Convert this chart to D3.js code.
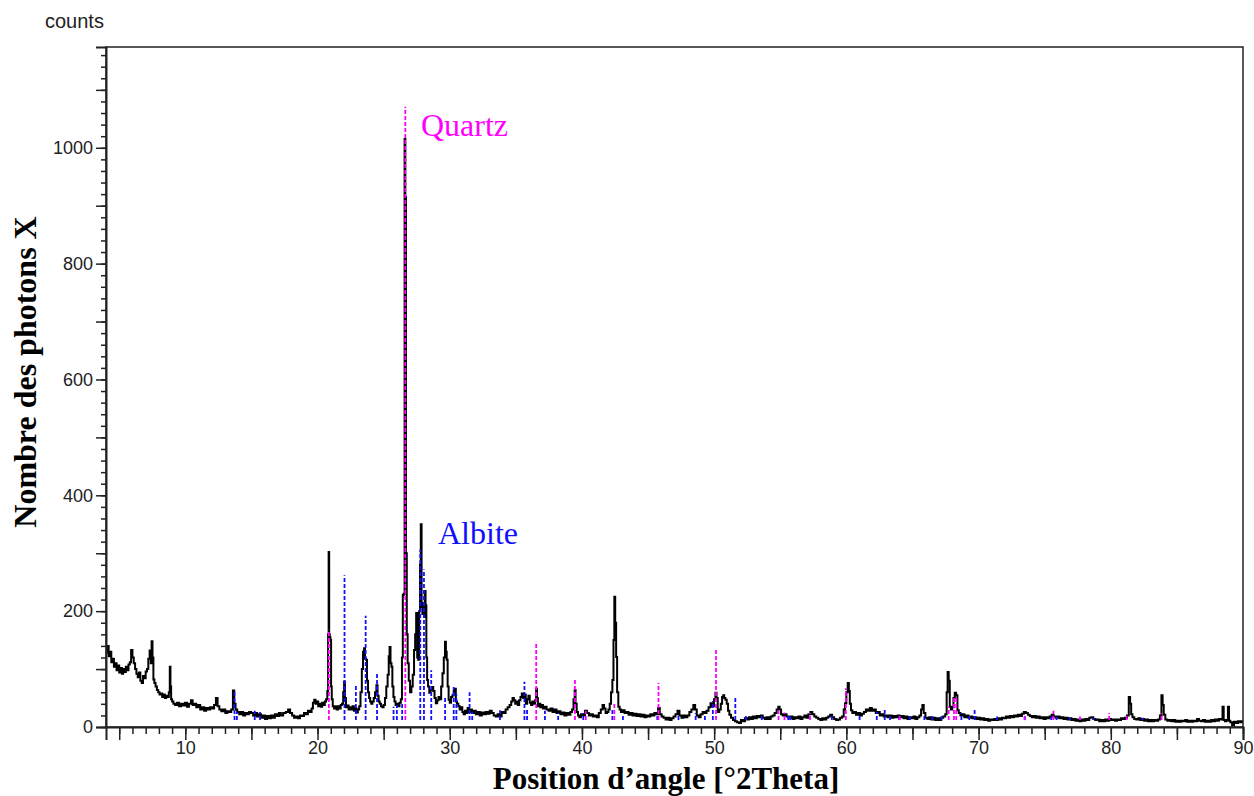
<!DOCTYPE html>
<html>
<head>
<meta charset="utf-8">
<script src="https://cdn.jsdelivr.net/npm/d3@7"></script>
<style>
  html, body { margin: 0; padding: 0; background: #fff; }
  svg { display: block; }
  .tick text { font-family: "Liberation Sans", Arial, sans-serif; font-size: 18px; fill: #222; }
</style>
</head>
<body>
<svg id="chart" width="1254" height="796"></svg>
<script>
// Diffractogram profile, [2θ (°), counts], split by angular range
const profileLow = [
  [4.00,138],[4.08,128],[4.15,140],[4.25,122],[4.35,130],[4.45,112],[4.55,118],[4.65,104],[4.75,110],[4.85,98],
  [4.95,106],[5.05,94],[5.15,102],[5.25,92],[5.35,100],[5.45,95],[5.55,104],[5.65,98],[5.75,108],[5.85,112],
  [5.95,133],[6.05,120],[6.15,110],[6.25,100],[6.35,92],[6.45,86],[6.55,94],[6.65,80],[6.75,76],[6.85,88],
  [6.95,84],[7.05,96],[7.15,100],[7.25,118],[7.35,132],[7.42,110],[7.48,148],[7.55,120],[7.62,82],[7.7,76],
  [7.8,70],[7.9,64],[8.0,60],[8.1,56],[8.2,58],[8.3,52],[8.4,56],[8.5,50],[8.6,54],[8.7,52],
  [8.8,60],[8.85,104],[8.9,70],[8.95,48],[9.05,44],[9.15,40],[9.3,38],[9.45,42],[9.6,36],[9.75,40],
  [9.9,37],[10.05,42],[10.2,35],[10.35,40],[10.5,46],[10.6,38],[10.75,40],[10.9,34],[11.05,38],[11.2,30],
  [11.35,34],[11.5,28],[11.65,33],[11.8,30],[11.95,34],[12.1,32],[12.25,38],[12.38,50],[12.5,36],[12.65,30],
  [12.8,27],[12.95,30],[13.1,24],[13.25,27],[13.4,26],[13.55,30],[13.65,63],[13.75,40],[13.85,30],[14.0,26],
  [14.15,22],[14.3,26],[14.45,20],[14.6,24],[14.75,22],[14.9,26],[15.05,24],[15.2,20],[15.35,24],[15.5,18],
  [15.65,22],[15.8,16],[15.95,20],[16.1,14],[16.25,19],[16.4,15],[16.55,20],[16.7,16],[16.85,22],[17.0,19],
  [17.15,24],[17.3,20],[17.5,24],[17.7,26],[17.85,30],[18.0,24],[18.15,20],[18.3,16],[18.45,18],[18.6,15],
  [18.75,20],[18.9,19],[19.05,24],[19.2,22],[19.35,28],[19.5,26]
];

const profileMain = [
  [19.6,32],[19.7,42],[19.8,47],[19.9,40],[20.0,44],[20.1,36],[20.2,40],[20.3,35],[20.4,42],[20.5,38],
  [20.6,44],[20.7,48],[20.78,62],[20.82,160],[20.86,302],[20.9,160],[20.95,155],[21.0,150],[21.05,70],[21.1,48],
  [21.2,36],[21.3,32],[21.4,36],[21.5,30],[21.6,36],[21.7,32],[21.8,38],[21.9,40],[21.98,60],[22.04,78],
  [22.1,50],[22.2,34],[22.3,37],[22.4,30],[22.5,34],[22.6,30],[22.7,36],[22.8,28],[22.9,32],[23.0,25],
  [23.1,30],[23.2,36],[23.3,60],[23.4,100],[23.48,130],[23.56,136],[23.62,118],[23.7,116],[23.78,80],[23.86,60],
  [23.94,50],[24.02,44],[24.1,40],[24.2,44],[24.3,50],[24.4,60],[24.5,72],[24.58,54],[24.66,44],[24.75,40],
  [24.85,36],[24.95,34],[25.05,38],[25.15,50],[25.25,70],[25.35,90],[25.42,122],[25.48,138],[25.56,110],[25.62,104],
  [25.7,70],[25.78,52],[25.86,44],[25.95,38],[26.05,40],[26.15,36],[26.25,42],[26.35,48],[26.42,120],[26.48,228],
  [26.55,230],[26.62,1015],[26.66,915],[26.72,300],[26.78,160],[26.85,110],[26.95,80],[27.05,60],[27.15,70],[27.25,90],
  [27.35,133],[27.42,160],[27.5,197],[27.58,120],[27.65,116],[27.72,200],[27.78,280],[27.84,350],[27.9,207],[27.96,195],
  [28.02,214],[28.08,190],[28.14,235],[28.2,210],[28.26,120],[28.32,81],[28.4,70],[28.5,59],[28.6,64],[28.7,69],
  [28.8,62],[28.9,50],[29.0,41],[29.1,46],[29.2,52],[29.3,48],[29.4,70],[29.5,93],[29.6,120],[29.68,147],
  [29.74,130],[29.8,116],[29.88,70],[29.95,47],[30.05,42],[30.15,52],[30.25,55],[30.35,62],[30.42,66],[30.5,44],
  [30.6,40],[30.7,36],[30.8,30],[30.9,34],[31.0,26],[31.1,22],[31.2,28],[31.3,24],[31.4,33],[31.5,26]
];

const profileMid = [
  [31.6,30],[31.75,24],[31.9,28],[32.05,22],[32.2,26],[32.35,20],[32.5,25],[32.65,22],[32.8,26],[32.95,23],
  [33.1,28],[33.25,24],[33.4,20],[33.55,18],[33.7,22],[33.85,18],[34.0,26],[34.15,24],[34.3,30],[34.45,34],
  [34.6,38],[34.7,44],[34.8,50],[34.9,46],[35.0,40],[35.1,44],[35.2,38],[35.3,46],[35.4,52],[35.5,58],
  [35.6,50],[35.7,56],[35.8,40],[35.9,48],[36.0,54],[36.1,42],[36.2,38],[36.3,44],[36.4,40],[36.5,46],
  [36.57,66],[36.63,50],[36.7,36],[36.8,40],[36.9,34],[37.0,38],[37.1,32],[37.25,35],[37.4,30],[37.55,28],
  [37.7,32],[37.85,26],[38.0,30],[38.15,24],[38.3,27],[38.45,22],[38.6,25],[38.75,20],[38.9,24],[39.05,21],
  [39.2,26],[39.3,30],[39.42,48],[39.48,64],[39.55,40],[39.65,26],[39.75,20],[39.85,17],[40.0,22],[40.15,20],
  [40.3,28],[40.45,24],[40.6,20],[40.75,22],[40.9,18],[41.05,20],[41.2,17],[41.35,24],[41.5,30],[41.62,38],
  [41.72,32],[41.85,24],[41.95,26],[42.05,30],[42.15,40],[42.25,60],[42.35,81],[42.42,150],[42.48,225],[42.55,180],
  [42.62,121],[42.7,60],[42.8,35],[42.9,30],[43.0,26],[43.15,29],[43.3,24],[43.45,26],[43.6,21],[43.75,24],
  [43.9,20],[44.05,23],[44.2,19],[44.35,22],[44.5,18],[44.65,21],[44.8,17],[44.95,20],[45.1,18],[45.25,22],
  [45.4,20],[45.55,24],[45.7,22],[45.82,33],[45.95,22],[46.1,18],[46.25,16],[46.4,13],[46.55,16],[46.7,12],
  [46.85,15],[47.0,18],[47.15,22],[47.3,28],[47.45,20],[47.6,16],[47.75,20],[47.9,17],[48.05,20],[48.2,26],
  [48.35,30],[48.5,38],[48.62,30],[48.75,20],[48.9,17],[49.05,22],[49.2,26],[49.35,24],[49.5,28],[49.65,34],
  [49.8,41],[49.92,36],[50.05,48],[50.14,59],[50.22,50],[50.32,26],[50.45,30],[50.55,40],[50.65,52],[50.72,55],
  [50.8,50],[50.9,47],[51.0,40],[51.1,28],[51.2,21],[51.35,16],[51.5,12],[51.65,10],[51.8,8],[51.95,7],
  [52.1,12],[52.25,10],[52.4,15],[52.55,13],[52.7,17],[52.85,14],[53.0,18],[53.15,15],[53.3,19],[53.45,17],
  [53.6,20],[53.75,16],[53.9,14],[54.05,17],[54.2,14],[54.35,18],[54.5,20],[54.65,24],[54.8,30],[54.9,35],
  [55.0,30],[55.12,22],[55.25,20],[55.4,22],[55.55,18],[55.7,16]
];

const profileHigh = [
  [55.85,18],[56.0,14],[56.15,17],[56.3,15],[56.45,18],[56.6,14],[56.75,17],[56.9,20],[57.05,16],[57.2,22],
  [57.35,26],[57.5,22],[57.65,18],[57.8,16],[57.95,14],[58.1,12],[58.25,15],[58.4,13],[58.55,16],[58.7,18],
  [58.85,21],[59.0,17],[59.15,14],[59.3,12],[59.45,13],[59.6,16],[59.75,18],[59.85,30],[59.95,41],[60.05,60],
  [60.15,76],[60.22,62],[60.3,40],[60.4,29],[60.5,24],[60.65,26],[60.8,21],[60.95,24],[61.1,20],[61.25,23],
  [61.4,26],[61.55,30],[61.7,28],[61.85,33],[62.0,28],[62.15,30],[62.3,24],[62.45,26],[62.6,20],[62.75,22],
  [62.9,18],[63.05,20],[63.2,17],[63.35,20],[63.5,16],[63.65,19],[63.8,17],[63.95,20],[64.1,17],[64.25,19],
  [64.4,15],[64.55,18],[64.7,14],[64.85,17],[65.0,15],[65.15,18],[65.3,14],[65.45,17],[65.6,20],[65.7,30],
  [65.8,38],[65.9,24],[66.05,16],[66.2,14],[66.35,17],[66.5,13],[66.65,16],[66.8,12],[66.95,15],[67.1,12],
  [67.25,16],[67.4,18],[67.55,22],[67.62,60],[67.7,95],[67.78,80],[67.86,35],[67.95,30],[68.05,34],[68.15,50],
  [68.25,59],[68.35,55],[68.45,29],[68.55,24],[68.7,20],[68.85,22],[69.0,17],[69.15,20],[69.3,16],[69.45,18],
  [69.6,15],[69.75,17],[69.9,14],[70.05,16],[70.2,13],[70.35,15],[70.5,12],[70.65,14],[70.8,11],[70.95,13],
  [71.1,12],[71.25,14],[71.4,12],[71.55,15],[71.7,13],[71.85,16],[72.0,15],[72.15,18],[72.3,16],[72.45,19],
  [72.6,17],[72.75,20],[72.9,18],[73.05,21],[73.2,19],[73.35,23],[73.5,26],[73.65,24],[73.8,21],[73.95,19],
  [74.1,17],[74.25,19],[74.4,16],[74.55,18],[74.7,15],[74.85,17],[75.0,14],[75.15,17],[75.3,15],[75.45,18],
  [75.6,21],[75.75,18],[75.9,16],[76.05,18],[76.2,15],[76.35,17],[76.5,14],[76.65,16],[76.8,13],[76.95,15],
  [77.1,12],[77.25,14],[77.4,11],[77.55,13],[77.7,10],[77.85,13],[78.0,11],[78.15,14],[78.3,12],[78.45,16],
  [78.6,17],[78.75,14],[78.9,12],[79.05,13],[79.2,10],[79.35,12],[79.5,10],[79.65,13],[79.8,11],[79.95,14],
  [80.1,12],[80.25,13],[80.4,11],[80.55,13],[80.7,12],[80.85,15],[81.0,14],[81.15,16],[81.3,20],[81.42,52],
  [81.5,40],[81.58,22],[81.7,17],[81.85,14],[82.0,13],[82.15,15],[82.3,12],[82.45,14],[82.6,11],[82.75,13],
  [82.9,10],[83.05,12],[83.2,10],[83.35,12],[83.5,11],[83.65,13],[83.78,20],[83.88,55],[83.96,38],[84.05,21],
  [84.2,13],[84.35,11],[84.5,12],[84.65,10],[84.8,12],[84.95,9],[85.1,11],[85.25,9],[85.4,11],[85.55,10],
  [85.7,12],[85.85,9],[86.0,11],[86.15,9],[86.3,11],[86.45,10],[86.6,14],[86.75,11],[86.9,10],[87.05,12],
  [87.2,9],[87.35,11],[87.5,9],[87.65,12],[87.8,10],[87.95,13],[88.1,11],[88.25,14],[88.4,13],[88.5,35],
  [88.58,12],[88.7,10],[88.82,12],[88.9,35],[88.98,11],[89.1,8],[89.25,3],[89.4,9],[89.55,7],[89.7,10],
  [89.85,8],[90.0,10]
];

// Reference pattern lines, [2θ (°), intensity in counts]
const quartzLines = [
  [20.86,168],[26.64,1071],[36.54,147],[39.47,83],[40.29,28],[42.45,40],[45.79,76],[50.14,136],
  [54.87,30],[55.32,25],[57.25,24],[59.96,67],[64.03,20],[67.74,35],[68.14,50],[68.31,52],
  [73.47,20],[75.66,28],[77.67,18],[79.88,24],[81.2,21],[83.84,24],[87.5,12]
];

const albiteLines = [
  [13.72,62],[13.9,26],[15.25,28],[15.65,26],[22.04,262],[22.9,72],[23.64,192],[24.5,93],
  [25.75,35],[26.0,38],[26.4,40],[27.77,306],[28.05,272],[28.6,98],[29.65,52],[30.3,69],
  [30.5,57],[31.5,60],[31.7,26],[33.8,29],[35.65,78],[35.85,32],[37.2,28],[38.2,24],
  [40.1,24],[42.3,30],[43.1,22],[45.7,22],[47.3,22],[48.6,24],[49.3,22],[49.9,45],
  [51.6,52],[52.4,20],[53.6,20],[55.6,20],[55.75,22],[58.9,22],[61.0,22],[62.3,26],
  [62.9,31],[63.3,22],[64.0,20],[64.8,20],[65.9,22],[66.5,20],[67.2,20],[68.7,24],
  [69.3,22],[69.7,31],[71.4,18],[73.5,20],[75.5,18],[75.9,18],[76.9,16],[78.7,16],[82.4,16]
];

// Axis ticks
const yTickLabels = [0, 200, 400, 600, 800, 1000];
const yMajorTicks = [0, 100, 200, 300, 400, 500, 600, 700, 800, 900, 1000, 1100];
const xTickLabels = [10, 20, 30, 40, 50, 60, 70, 80, 90];
const xMajorTicks = [5, 10, 15, 20, 25, 30, 35, 40, 45, 50, 55, 60, 65, 70, 75, 80, 85, 90];

const svg = d3.select("#chart");
const margin = { left: 106, right: 1243, top: 47, bottom: 727 };
const stickBase = 12;

const x = d3.scaleLinear().domain([4, 90]).range([margin.left, margin.right]);
const y = d3.scaleLinear().domain([0, 1174]).range([margin.bottom, margin.top]);

svg.append("defs").append("clipPath").attr("id", "plotClip")
  .append("rect")
  .attr("x", margin.left).attr("y", margin.top)
  .attr("width", margin.right - margin.left).attr("height", margin.bottom - margin.top);

const plot = svg.append("g").attr("clip-path", "url(#plotClip)");

// Measured profile, drawn as counting steps
const profile = [].concat(profileLow, profileMain, profileMid, profileHigh);
plot.append("path")
  .datum(profile)
  .attr("fill", "none")
  .attr("stroke", "#000")
  .attr("stroke-width", 2)
  .attr("d", d3.line().curve(d3.curveStep).x(d => x(d[0])).y(d => y(d[1])));

// Phase reference sticks
function drawSticks(lines, color) {
  plot.append("g").selectAll("line")
    .data(lines)
    .join("line")
    .attr("x1", d => x(d[0])).attr("x2", d => x(d[0]))
    .attr("y1", y(stickBase)).attr("y2", d => y(d[1]))
    .attr("stroke", color)
    .attr("stroke-width", 1.8)
    .attr("stroke-dasharray", "4,2");
}
drawSticks(albiteLines, "#1010ff");
drawSticks(quartzLines, "#ff00ff");

// Frame
svg.append("rect")
  .attr("x", margin.left).attr("y", margin.top)
  .attr("width", margin.right - margin.left).attr("height", margin.bottom - margin.top)
  .attr("fill", "none").attr("stroke", "#222").attr("stroke-width", 1.5);

// Y axis: minor, then major with labels
svg.append("g")
  .attr("transform", `translate(${margin.left},0)`)
  .call(d3.axisLeft(y).tickValues(d3.range(0, 1161, 20)).tickSize(5).tickFormat(""))
  .call(g => g.select(".domain").remove())
  .call(g => g.selectAll("line").attr("stroke", "#222").attr("stroke-width", 1.5));

svg.append("g")
  .attr("transform", `translate(${margin.left},0)`)
  .call(d3.axisLeft(y).tickValues(yMajorTicks).tickSize(10).tickPadding(3)
    .tickFormat(d => yTickLabels.includes(d) ? d : ""))
  .call(g => g.select(".domain").attr("stroke", "#222").attr("stroke-width", 2))
  .call(g => g.selectAll("line").attr("stroke", "#222").attr("stroke-width", 1.5));

// X axis: minor, then major with labels
svg.append("g")
  .attr("transform", `translate(0,${margin.bottom})`)
  .call(d3.axisBottom(x).tickValues(d3.range(5, 91, 1)).tickSize(7).tickFormat(""))
  .call(g => g.select(".domain").remove())
  .call(g => g.selectAll("line").attr("stroke", "#222").attr("stroke-width", 1.5));

svg.append("g")
  .attr("transform", `translate(0,${margin.bottom})`)
  .call(d3.axisBottom(x).tickValues(xMajorTicks).tickSize(13).tickPadding(3)
    .tickFormat(d => xTickLabels.includes(d) ? d : ""))
  .call(g => g.select(".domain").attr("stroke", "#222").attr("stroke-width", 2))
  .call(g => g.selectAll("line").attr("stroke", "#222").attr("stroke-width", 1.5))
  .call(g => g.selectAll("text").attr("dy", "0.62em"));

// Unit label above the y axis
svg.append("text")
  .attr("x", 45).attr("y", 28)
  .attr("font-family", "Liberation Sans, Arial, sans-serif")
  .attr("font-size", 20)
  .attr("fill", "#222")
  .text("counts");

// Axis titles
svg.append("text")
  .attr("transform", "translate(36,372) rotate(-90)")
  .attr("text-anchor", "middle")
  .attr("font-family", "Liberation Serif, Times New Roman, serif")
  .attr("font-weight", "bold")
  .attr("font-size", 32)
  .attr("fill", "#000")
  .text("Nombre des photons X");

svg.append("text")
  .attr("x", 666).attr("y", 789)
  .attr("text-anchor", "middle")
  .attr("font-family", "Liberation Serif, Times New Roman, serif")
  .attr("font-weight", "bold")
  .attr("font-size", 31)
  .attr("fill", "#000")
  .text("Position d’angle [°2Theta]");

// Phase labels
svg.append("text")
  .attr("x", 421).attr("y", 136)
  .attr("font-family", "Liberation Serif, Times New Roman, serif")
  .attr("font-size", 32)
  .attr("fill", "#ff00ff")
  .text("Quartz");

svg.append("text")
  .attr("x", 438).attr("y", 544)
  .attr("font-family", "Liberation Serif, Times New Roman, serif")
  .attr("font-size", 32)
  .attr("fill", "#1010ff")
  .text("Albite");
</script>
</body>
</html>
